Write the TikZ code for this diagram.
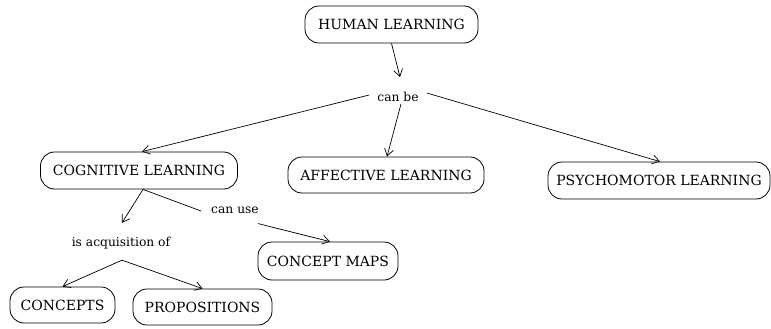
\documentclass[tikz,border=0pt]{standalone}
\usepackage{fontspec}
\setmainfont{DejaVu Serif}
\usetikzlibrary{arrows.meta}
\begin{document}
\begin{tikzpicture}[x=1pt,y=-1pt,
  concept/.style={draw, rounded corners=14pt, minimum height=37pt, inner sep=0pt,
    font=\fontsize{14}{16}\selectfont, line width=0.8pt},
  link/.style={font=\fontsize{12.3}{14}\selectfont, inner sep=1pt},
  arr/.style={-{Straight Barb[length=7pt,width=9pt]}, line width=0.7pt},
  ln/.style={line width=0.7pt}]
\useasboundingbox (0,0) rectangle (771,329);

% concepts
\node[concept, minimum width=173pt] (human) at (391.5,24.5) {HUMAN LEARNING};
\node[concept, minimum width=197pt] (cog) at (139,170.5) {COGNITIVE LEARNING};
\node[concept, minimum width=196pt, minimum height=36pt] (aff) at (386,175) {AFFECTIVE LEARNING};
\node[concept, minimum width=222pt] (psy) at (659,180.5) {PSYCHOMOTOR LEARNING};
\node[concept, minimum width=140pt, minimum height=38pt] (maps) at (328,261) {CONCEPT MAPS};
\node[concept, minimum width=105pt, minimum height=36pt] (cpts) at (62.5,305) {CONCEPTS};
\node[concept, minimum width=139pt, minimum height=36pt] (prop) at (202.5,307) {PROPOSITIONS};

% linking phrases
\node[link] (canbe) at (398,97) {can be};
\node[link] (canuse) at (235,210) {can use};
\node[link] (acq) at (121,243) {is acquisition of};
\coordinate (fork) at ([xshift=1pt,yshift=-10pt]acq.south);

% connectors
\draw[arr] (human.south) -- ([xshift=2pt,yshift=14pt]canbe.north);
\draw[arr] ([xshift=-7pt,yshift=2pt]canbe.west) -- ([xshift=3pt]cog.north);
\draw[arr] ([xshift=3pt,yshift=-1pt]canbe.south) -- ([xshift=1pt]aff.north);
\draw[arr] ([xshift=7pt,yshift=4pt]canbe.east) -- ([xshift=1pt]psy.north);
\draw[arr] ([xshift=4pt]cog.south) -- ([xshift=1pt,yshift=13pt]acq.north);
\draw[ln] ([xshift=4pt]cog.south) -- ([xshift=-9pt,yshift=-1pt]canuse.west);
\draw[arr] ([xshift=-2pt,yshift=-9pt]canuse.south east) -- ([xshift=2pt]maps.north);
\draw[arr] (fork) -- (cpts.north);
\draw[arr] (fork) -- (prop.north);
\end{tikzpicture}
\end{document}
